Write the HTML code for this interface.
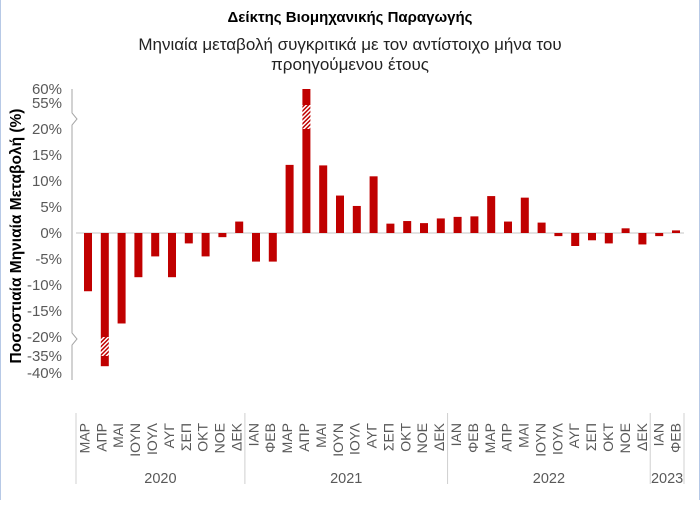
<!DOCTYPE html>
<html><head><meta charset="utf-8"><style>
html,body{margin:0;padding:0;background:#fff}
#wrap{position:relative;width:700px;height:500px;box-sizing:border-box;border-left:1px solid #b7c9e6;border-right:1px solid #b7c9e6;font-family:"Liberation Sans","DejaVu Sans",sans-serif}
svg text{font-family:"Liberation Sans","DejaVu Sans",sans-serif}
</style></head><body>
<div id="wrap">
<svg id="chart" width="698" height="500" viewBox="0 0 698 500" xmlns="http://www.w3.org/2000/svg">
<defs><pattern id="hatch" width="3" height="3" patternUnits="userSpaceOnUse" patternTransform="rotate(45)"><rect width="3" height="3" fill="#fff"/><rect width="1.5" height="3" fill="#c00000"/></pattern></defs>
<text x="349" y="22" text-anchor="middle" font-size="15" font-weight="bold" fill="#000">Δείκτης Βιομηχανικής Παραγωγής</text>
<text x="349" y="50" text-anchor="middle" font-size="17" fill="#222">Μηνιαία μεταβολή συγκριτικά με τον αντίστοιχο μήνα του</text>
<text x="349" y="70" text-anchor="middle" font-size="17" fill="#222">προηγούμενου έτους</text>
<text transform="translate(20,236) rotate(-90)" text-anchor="middle" font-size="15.5" font-weight="bold" fill="#000">Ποσοστιαία Μηνιαία Μεταβολή (%)</text>
<g id="yaxis"></g>
<g id="bars"></g>
<g id="xaxis"></g>
</svg>
</div>
<script>
const months = ["ΜΑΡ","ΑΠΡ","ΜΑΙ","ΙΟΥΝ","ΙΟΥΛ","ΑΥΓ","ΣΕΠ","ΟΚΤ","ΝΟΕ","ΔΕΚ","ΙΑΝ","ΦΕΒ","ΜΑΡ","ΑΠΡ","ΜΑΙ","ΙΟΥΝ","ΙΟΥΛ","ΑΥΓ","ΣΕΠ","ΟΚΤ","ΝΟΕ","ΔΕΚ","ΙΑΝ","ΦΕΒ","ΜΑΡ","ΑΠΡ","ΜΑΙ","ΙΟΥΝ","ΙΟΥΛ","ΑΥΓ","ΣΕΠ","ΟΚΤ","ΝΟΕ","ΔΕΚ","ΙΑΝ","ΦΕΒ"];
const values = [-11.2,-38,-17.4,-8.5,-4.5,-8.5,-2,-4.5,-0.8,2.2,-5.5,-5.5,13.1,60,13,7.2,5.2,10.9,1.8,2.3,1.9,2.8,3.1,3.2,7.1,2.2,6.8,2.0,-0.6,-2.5,-1.4,-2.0,0.9,-2.2,-0.6,0.5];
const years = ["2020","2021","2022","2023"];
const yearCounts = [10,12,12,2];
const tickLabels = ["60%","55%","20%","15%","10%","5%","0%","-5%","-10%","-15%","-20%","-35%","-40%"];
const tickValues = [60,55,20,15,10,5,0,-5,-10,-15,-20,-35,-40];

const NS="http://www.w3.org/2000/svg";
const X0=75, X1=683, CW=(X1-X0)/months.length, Y0=233, K=5.2;
const BX0=87, BCW=16.8;
function y(v){
  if(v>=-20&&v<=20) return Y0-v*K;
  if(v>55) return 103-(v-55)*2.8;
  if(v>20) return 129-(v-20)/35*26;
  if(v<-35) return 356+(-35-v)*3.4;
  return 336+(-20-v)/15*20;
}
function xc(i){return X0+CW*(i+0.5);}
function bx(i){return BX0+BCW*i;}
function mk(tag,attrs,parent){const e=document.createElementNS(NS,tag);for(const k in attrs)e.setAttribute(k,attrs[k]);parent.appendChild(e);return e;}

const ya=document.getElementById('yaxis');
const axisPath=`M71,89 L71,113 L76,119 L71,125 L71,333 L76,339 L71,345 L71,380`;
const ax=mk('path',{d:axisPath,stroke:'#a6a6a6','stroke-width':1,fill:'none'},ya);


tickValues.forEach((v,i)=>{
  const t=mk('text',{x:61,y:y(v)+5,'text-anchor':'end','font-size':15,fill:'#595959'},ya);
  t.textContent=tickLabels[i];
  
  
});
const zl=mk('line',{x1:X0,x2:X1,y1:Y0,y2:Y0,stroke:'#d0d0d0','stroke-width':1.3},ya);



const bg=document.getElementById('bars');
const BW=8;
values.forEach((v,i)=>{
  const cx=bx(i), x=cx-BW/2;
  const g=mk('g',{},bg);
  
  
  if(v>20){
    mk('rect',{x:x,y:Y0-20*K,width:BW,height:20*K,fill:'#c00000'},g);
    mk('rect',{x:x,y:y(55)+2,width:BW,height:y(20)-y(55)-2,fill:'url(#hatch)'},g);
    mk('rect',{x:x,y:y(v),width:BW,height:y(55)+2-y(v),fill:'#c00000'},g);
  } else if(v<-20){
    mk('rect',{x:x,y:Y0,width:BW,height:20*K,fill:'#c00000'},g);
    mk('rect',{x:x,y:y(-20),width:BW,height:y(-35)-y(-20),fill:'url(#hatch)'},g);
    mk('rect',{x:x,y:y(-35),width:BW,height:y(v)-y(-35),fill:'#c00000'},g);
  } else {
    const a=y(v);
    mk('rect',{x:x,y:Math.min(a,Y0),width:BW,height:Math.abs(a-Y0),fill:'#c00000'},g);
  }
});

const xa=document.getElementById('xaxis');
months.forEach((m,i)=>{
  const t=mk('text',{transform:`translate(${xc(i)+5},423) rotate(-90)`,'text-anchor':'end','font-size':14,fill:'#595959'},xa);
  t.textContent=m;
  
  
});
let start=0;
const sep0=mk('line',{x1:X0,x2:X0,y1:413,y2:484,stroke:'#d0d0d0','stroke-width':1},xa);


years.forEach((yr,j)=>{
  const end=start+yearCounts[j];
  const xe=X0+CW*end;
  const s=mk('line',{x1:xe,x2:xe,y1:413,y2:484,stroke:'#d0d0d0','stroke-width':1},xa);
  
  
  const t=mk('text',{x:(X0+CW*start+xe)/2,y:483,'text-anchor':'middle','font-size':14.5,fill:'#595959'},xa);
  t.textContent=yr;
  
  
  start=end;
});
</script>
</body></html>
